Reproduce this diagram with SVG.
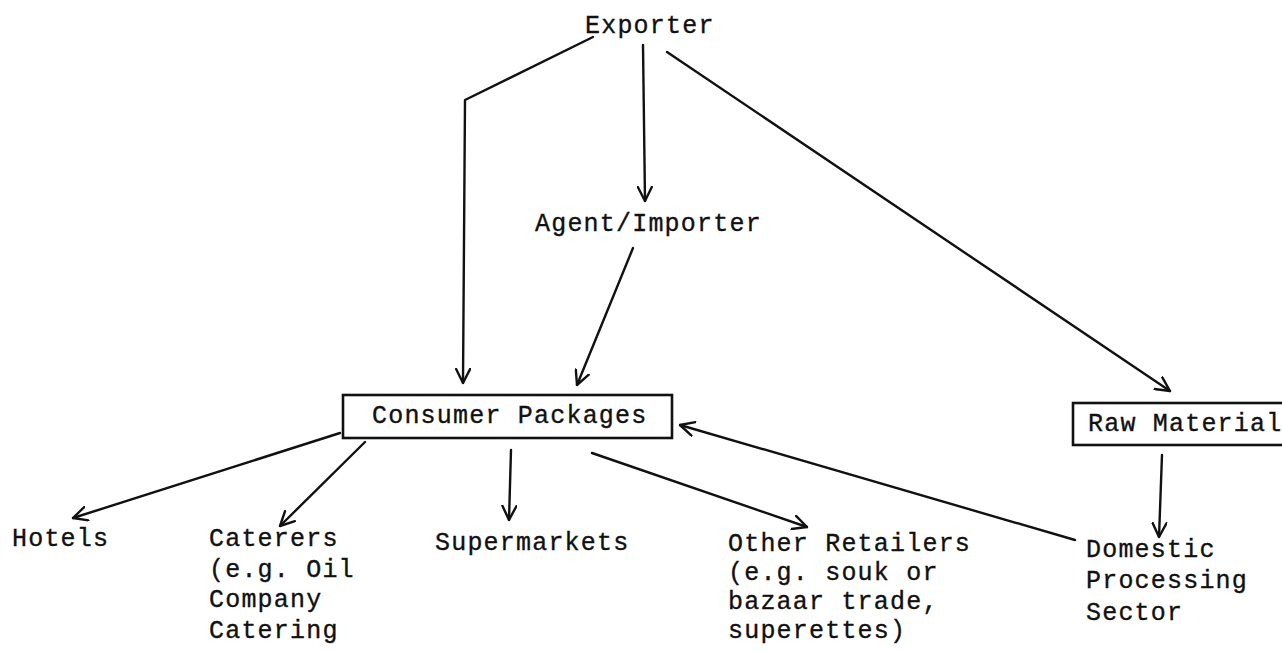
<svg xmlns="http://www.w3.org/2000/svg" width="1282" height="652" viewBox="0 0 1282 652">
<defs>
<style>
text{font-family:"Liberation Mono","DejaVu Sans Mono",monospace;font-size:25px;letter-spacing:1.2px;fill:#111;stroke:#111;stroke-width:0.35}
.c{fill:none;stroke:#111;stroke-width:2.4;stroke-linecap:round;stroke-linejoin:round}
.box{fill:#fff;stroke:#111;stroke-width:2.6}
</style>
<marker id="a" viewBox="0 0 16 16" refX="15" refY="8" markerWidth="16" markerHeight="16" markerUnits="userSpaceOnUse" orient="auto">
<path d="M1,1 L15,8 L1,15" fill="none" stroke="#111" stroke-width="2.4" stroke-linecap="round" stroke-linejoin="round"/>
</marker>
</defs>
<rect width="1282" height="652" fill="#fff"/>
<g id="connectors">
<path class="c" d="M593,37 L465,100 L463,383" marker-end="url(#a)"/>
<path class="c" d="M643,45 L645,201" marker-end="url(#a)"/>
<path class="c" d="M667,52 L1170,391" marker-end="url(#a)"/>
<path class="c" d="M633,248 L577,385" marker-end="url(#a)"/>
<path class="c" d="M1162,455 L1159,537" marker-end="url(#a)"/>
<path class="c" d="M1075,540 L680,425" marker-end="url(#a)"/>
<path class="c" d="M340,433 L73,518" marker-end="url(#a)"/>
<path class="c" d="M365,442 L280,526" marker-end="url(#a)"/>
<path class="c" d="M511,450 L509,520" marker-end="url(#a)"/>
<path class="c" d="M592,453 L807,527" marker-end="url(#a)"/>
</g>
<g id="exporter"><text x="585" y="33">Exporter</text></g>
<g id="agent"><text x="535" y="231">Agent/Importer</text></g>
<g id="consumer"><rect class="box" x="343" y="395" width="329" height="43"/><text x="372" y="423">Consumer Packages</text></g>
<g id="raw"><rect class="box" x="1073" y="403" width="215" height="42"/><text x="1088" y="431">Raw Material</text></g>
<g id="hotels"><text x="12" y="546">Hotels</text></g>
<g id="caterers"><text x="209" y="546">Caterers</text><text x="209" y="577">(e.g. Oil</text><text x="209" y="607">Company</text><text x="209" y="638">Catering</text></g>
<g id="supermarkets"><text x="435" y="550">Supermarkets</text></g>
<g id="retailers"><text x="728" y="551">Other Retailers</text><text x="728" y="580">(e.g. souk or</text><text x="728" y="609">bazaar trade,</text><text x="728" y="638">superettes)</text></g>
<g id="domestic"><text x="1086" y="557">Domestic</text><text x="1086" y="588">Processing</text><text x="1086" y="620">Sector</text></g>
</svg>
